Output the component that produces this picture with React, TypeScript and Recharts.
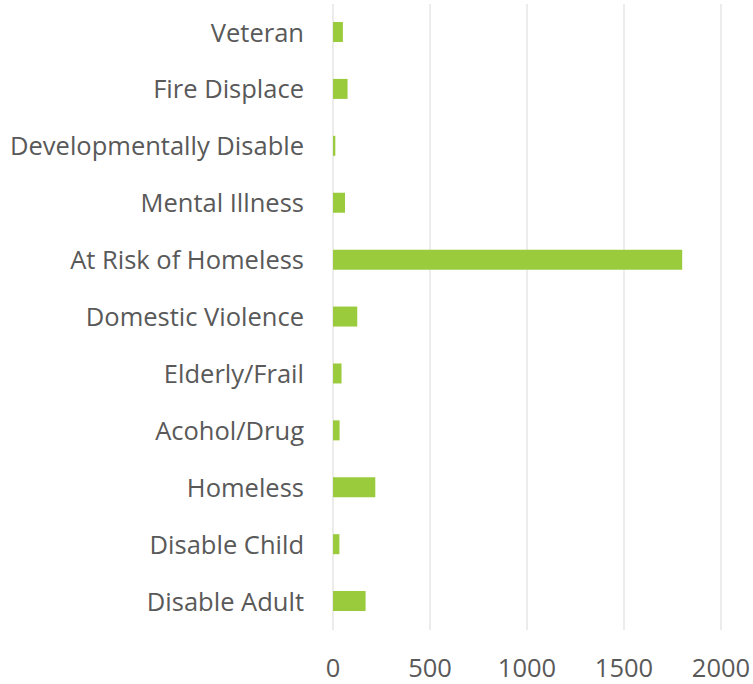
import { Bar, BarChart, CartesianGrid, XAxis, YAxis } from "recharts";

const categories = [
  "Veteran",
  "Fire Displace",
  "Developmentally Disable",
  "Mental Illness",
  "At Risk of Homeless",
  "Domestic Violence",
  "Elderly/Frail",
  "Acohol/Drug",
  "Homeless",
  "Disable Child",
  "Disable Adult",
];
const counts = [51, 75, 12, 62, 1800, 125, 44, 34, 218, 33, 168];
const xTicks = [0, 500, 1000, 1500, 2000];

const chartData = categories.map((name, i) => ({ name, count: counts[i] }));

const FONT = "'Open Sans', sans-serif";

export default function App() {
  return (
    <div style={{ position: "fixed", top: 0, left: 0, width: 753, height: 684, background: "#fff" }}>
      <BarChart
        width={753}
        height={684}
        data={chartData}
        layout="vertical"
        margin={{ top: 4, right: 32, left: 0, bottom: 0 }}
        style={{ overflow: "visible" }}
      >
        <CartesianGrid horizontal={false} stroke="#d9d9d9" />
        <XAxis
          type="number"
          domain={[0, 2000]}
          ticks={xTicks}
          axisLine={false}
          tickLine={false}
          height={54}
          tickMargin={23}
          tick={{ fontSize: 25.5, fill: "#595959", fontFamily: FONT }}
        />
        <YAxis
          type="category"
          dataKey="name"
          width={333}
          axisLine={false}
          tickLine={false}
          tickMargin={23}
          interval={0}
          tick={{ fontSize: 25.5, fill: "#595959", fontFamily: FONT }}
        />
        <Bar dataKey="count" fill="#9acb3c" barSize={20} isAnimationActive={false} />
      </BarChart>
    </div>
  );
}
